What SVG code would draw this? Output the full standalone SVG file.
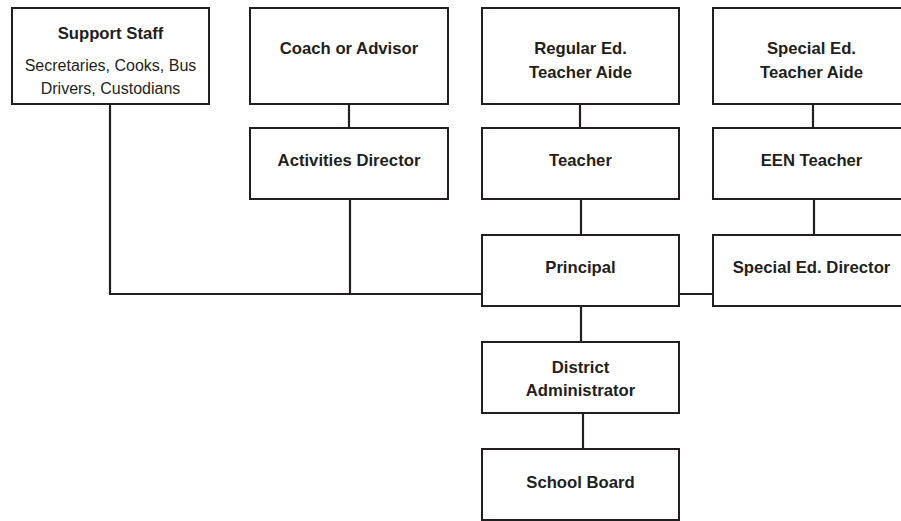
<svg xmlns="http://www.w3.org/2000/svg" width="901" height="521" viewBox="0 0 901 521">
<style>
.box{fill:#fff;stroke:#231f20;stroke-width:2}
.ln{fill:none;stroke:#231f20;stroke-width:2.2}
text{font-family:"Liberation Sans",Arial,sans-serif;font-size:16px;fill:#231f20;text-anchor:middle}
.b{font-weight:bold;font-size:16.7px}
</style>
<rect width="901" height="521" fill="#fff"/>
<g id="connectors">
<path class="ln" d="M110,104V294H482"/>
<path class="ln" d="M350,199V294"/>
<path class="ln" d="M349,104V128"/>
<path class="ln" d="M580,104V128"/>
<path class="ln" d="M581,199V235"/>
<path class="ln" d="M581,306V342"/>
<path class="ln" d="M583,413V449"/>
<path class="ln" d="M813,104V128"/>
<path class="ln" d="M814,199V235"/>
<path class="ln" d="M679,294H713"/>
</g>
<g id="support-staff">
<rect class="box" x="12" y="8" width="197" height="96"/>
<text class="b" x="110.5" y="39">Support Staff</text>
<text x="110.5" y="71">Secretaries, Cooks, Bus</text>
<text x="110.5" y="94">Drivers, Custodians</text>
</g>
<g id="coach">
<rect class="box" x="250" y="8" width="198" height="96"/>
<text class="b" x="349" y="54">Coach or Advisor</text>
</g>
<g id="activities-director">
<rect class="box" x="250" y="128" width="198" height="71"/>
<text class="b" x="349" y="166">Activities Director</text>
</g>
<g id="regular-aide">
<rect class="box" x="482" y="8" width="197" height="96"/>
<text class="b" x="580.5" y="54">Regular Ed.</text>
<text class="b" x="580.5" y="78">Teacher Aide</text>
</g>
<g id="teacher">
<rect class="box" x="482" y="128" width="197" height="71"/>
<text class="b" x="580.5" y="166">Teacher</text>
</g>
<g id="principal">
<rect class="box" x="482" y="235" width="197" height="71"/>
<text class="b" x="580.5" y="273">Principal</text>
</g>
<g id="district-admin">
<rect class="box" x="482" y="342" width="197" height="71"/>
<text class="b" x="580.5" y="373">District</text>
<text class="b" x="580.5" y="396">Administrator</text>
</g>
<g id="school-board">
<rect class="box" x="482" y="449" width="197" height="71"/>
<text class="b" x="580.5" y="488">School Board</text>
</g>
<g id="special-aide">
<rect class="box" x="713" y="8" width="198" height="96"/>
<text class="b" x="811.5" y="54">Special Ed.</text>
<text class="b" x="811.5" y="78">Teacher Aide</text>
</g>
<g id="een-teacher">
<rect class="box" x="713" y="128" width="198" height="71"/>
<text class="b" x="811.5" y="166">EEN Teacher</text>
</g>
<g id="special-director">
<rect class="box" x="713" y="235" width="198" height="71"/>
<text class="b" x="811.5" y="273">Special Ed. Director</text>
</g>
</svg>
